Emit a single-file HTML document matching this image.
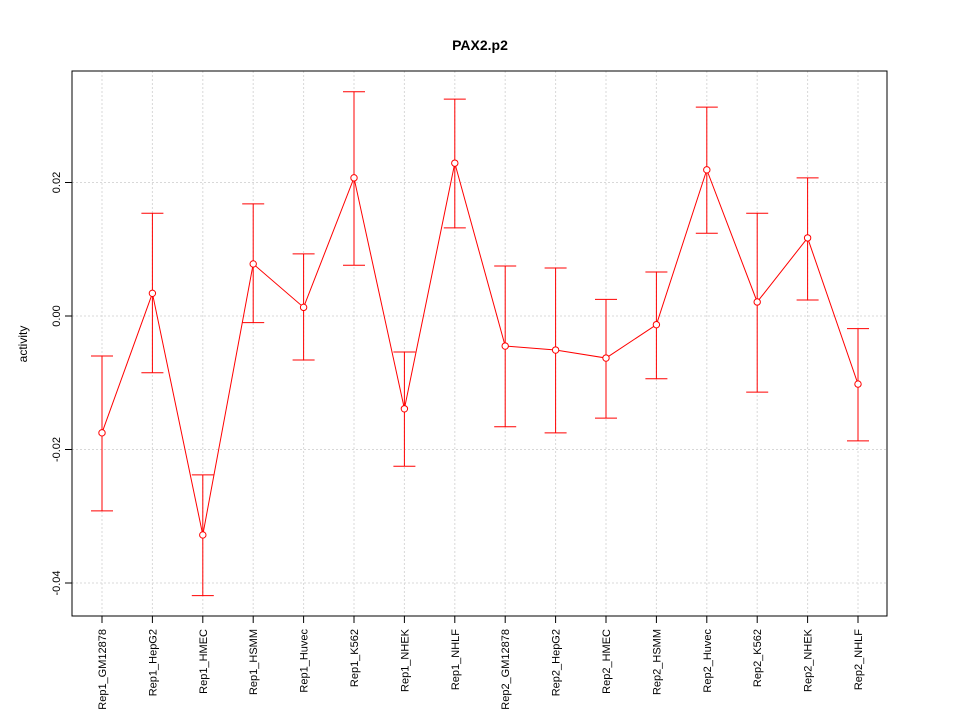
<!DOCTYPE html>
<html><head><meta charset="utf-8"><style>body{margin:0;background:#fff}svg{display:block;font-family:"Liberation Sans",sans-serif}</style></head>
<body>
<svg id="chart" width="960" height="720">
<rect width="960" height="720" fill="#fff"/>
<text x="480" y="50" text-anchor="middle" font-weight="bold" font-size="14">PAX2.p2</text>
<text transform="translate(27,344) rotate(-90)" text-anchor="middle" font-size="12">activity</text>
<g id="grid"></g><g id="axes"></g><g id="marks"></g>
</svg>
<script>
const categories=["Rep1_GM12878","Rep1_HepG2","Rep1_HMEC","Rep1_HSMM","Rep1_Huvec","Rep1_K562","Rep1_NHEK","Rep1_NHLF","Rep2_GM12878","Rep2_HepG2","Rep2_HMEC","Rep2_HSMM","Rep2_Huvec","Rep2_K562","Rep2_NHEK","Rep2_NHLF"];
const values=[-0.0175,0.0034,-0.0328,0.0078,0.0013,0.0207,-0.0139,0.0229,-0.0045,-0.0051,-0.0063,-0.0013,0.0219,0.0021,0.0117,-0.0102];
const upper=[-0.006,0.0154,-0.0238,0.0168,0.0093,0.0336,-0.0054,0.0325,0.0075,0.0072,0.0025,0.0066,0.0313,0.0154,0.0207,-0.0019];
const lower=[-0.0292,-0.0085,-0.0419,-0.001,-0.0066,0.0076,-0.0225,0.0132,-0.0166,-0.0175,-0.0153,-0.0094,0.0124,-0.0114,0.0024,-0.0187];
const yTicks=[-0.04,-0.02,0.00,0.02];
const yTickLabels=["-0.04","-0.02","0.00","0.02"];
const L=72,R=887,T=71,B=616;
const x=i=>102+i*(858-102)/(categories.length-1);
const y=v=>316-v*6675;
const NS="http://www.w3.org/2000/svg";
function mk(p,tag,at){const e=document.createElementNS(NS,tag);for(const k in at)e.setAttribute(k,at[k]);p.appendChild(e);return e;}
const grid=document.getElementById('grid'),axes=document.getElementById('axes'),marks=document.getElementById('marks');
categories.forEach((c,i)=>{
 const g=mk(grid,'line',{x1:x(i),x2:x(i),y1:T,y2:B,stroke:'#d8d8d8','stroke-dasharray':'2,2'});
 
 
 const t=mk(axes,'line',{x1:x(i),x2:x(i),y1:B,y2:B+7,stroke:'#000'});
 
 
 const lb=mk(axes,'text',{transform:`translate(${x(i)+4},${B+13}) rotate(-90)`,'text-anchor':'end','font-size':'11'});
 lb.textContent=c;
 
 
});
yTicks.forEach((v,i)=>{
 const g=mk(grid,'line',{x1:L,x2:R,y1:y(v),y2:y(v),stroke:'#d8d8d8','stroke-dasharray':'2,2'});
 
 
 const t=mk(axes,'line',{x1:L-7,x2:L,y1:y(v),y2:y(v),stroke:'#000'});
 
 
 const lb=mk(axes,'text',{transform:`translate(${L-12},${y(v)}) rotate(-90)`,'text-anchor':'middle','font-size':'11'});
 lb.textContent=yTickLabels[i];
 
 
});
const frame=mk(axes,'rect',{x:L,y:T,width:R-L,height:B-T,fill:'none',stroke:'#000'});


const line=mk(marks,'polyline',{points:values.map((v,i)=>x(i)+','+y(v)).join(' '),fill:'none',stroke:'red'});


values.forEach((v,i)=>{
 const eb=mk(marks,'path',{d:`M${x(i)},${y(upper[i])}V${y(lower[i])}M${x(i)-11},${y(upper[i])}H${x(i)+11}M${x(i)-11},${y(lower[i])}H${x(i)+11}`,stroke:'red',fill:'none'});
 
 
 const p=mk(marks,'circle',{cx:x(i),cy:y(v),r:3.2,fill:'#fff',stroke:'red'});
 
 
});
</script>
</body></html>
